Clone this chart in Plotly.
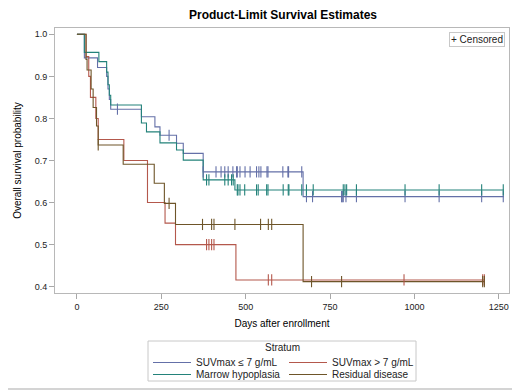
import plotly.graph_objects as go
import numpy as np

# ---- data ----
strata = ["SUVmax \u2264 7 g/mL", "SUVmax > 7 g/mL", "Marrow hypoplasia", "Residual disease"]
colors = ["#6470a8", "#b4584c", "#23827a", "#6e5529"]

blue_t = [0, 22, 61, 88, 92, 96, 100, 191, 231, 246, 295, 315, 374, 670, 1265]
blue_s = [1.0, 0.944, 0.921, 0.90, 0.87, 0.845, 0.822, 0.804, 0.780, 0.760, 0.741, 0.717, 0.673, 0.614, 0.614]
blue_c = [120, 273, 374, 412, 427, 438, 448, 462, 473, 475, 483, 498, 513, 532, 539, 545, 563, 566,
          610, 625, 627, 666, 680, 698, 784, 786, 789, 797, 828, 972, 1073, 1199, 1263]

red_t = [0, 27, 35, 40, 56, 63, 139, 209, 261, 292, 471, 1209]
red_s = [1.0, 0.947, 0.90, 0.85, 0.80, 0.75, 0.70, 0.60, 0.551, 0.50, 0.416, 0.416]
red_c = [384, 391, 399, 406, 567, 577, 969, 1202, 1207]

teal_t = [0, 22, 65, 88, 92, 96, 100, 191, 206, 246, 295, 315, 374, 468, 1265]
teal_s = [1.0, 0.957, 0.935, 0.91, 0.88, 0.855, 0.832, 0.789, 0.768, 0.742, 0.725, 0.701, 0.654, 0.630, 0.630]
teal_c = [384, 391, 438, 448, 458, 463, 475, 477, 483, 497, 532, 537, 562, 566, 611, 626, 628, 666,
          680, 700, 789, 794, 799, 828, 972, 1073, 1199, 1263]

brown_t = [0, 27, 30, 42, 48, 58, 63, 137, 229, 259, 292, 670, 1209]
brown_s = [1.0, 0.94, 0.915, 0.87, 0.826, 0.782, 0.737, 0.691, 0.646, 0.598, 0.548, 0.412, 0.412]
brown_c = [63, 273, 372, 399, 406, 468, 544, 567, 577, 695, 784, 1202, 1207]

x_ticks = [0, 250, 500, 750, 1000, 1250]
y_ticks = [0.4, 0.5, 0.6, 0.7, 0.8, 0.9, 1.0]

curves = [(blue_t, blue_s, blue_c), (red_t, red_s, red_c), (teal_t, teal_s, teal_c), (brown_t, brown_s, brown_c)]
legend_ids = ["legend", "legend", "legend2", "legend2"]


def surv_at(t, s, x):
    idx = np.searchsorted(np.array(t), np.array(x), side="right") - 1
    return list(np.array(s)[idx])


fig = go.Figure()
for name, col, lg, (t, s, c) in zip(strata, colors, legend_ids, curves):
    fig.add_trace(go.Scatter(x=t, y=s, mode="lines", name=name, legend=lg,
                             line=dict(color=col, width=1.1, shape="hv")))
for name, col, (t, s, c) in zip(strata, colors, curves):
    fig.add_trace(go.Scatter(x=c, y=surv_at(t, s, c), mode="markers", showlegend=False,
                             name=name + " censored",
                             marker=dict(symbol="line-ns", size=8, line=dict(color=col, width=1.1))))

fnt = "Liberation Sans, Arial, sans-serif"
OFF = 8  # browser body margin
W, H = 520 - OFF, 390 - OFF
ml, mt = 55 - OFF, 28 - OFF
mr = 520 - 509
mb = 390 - 293
pw, ph = W - ml - mr, H - mt - mb


def px2x(px):  # page pixel -> paper x
    return (px - OFF - ml) / pw


def py2y(py):  # page pixel -> paper y
    return (H - mb - (py - OFF)) / ph


leg_common = dict(orientation="h", xanchor="left", yanchor="top", borderwidth=0,
                  bgcolor="rgba(0,0,0,0)", font=dict(size=10, color="#222"), traceorder="normal",
                  entrywidth=83, entrywidthmode="pixels", itemwidth=38, tracegroupgap=0)

fig.update_layout(
    width=W, height=H,
    margin=dict(l=ml, r=mr, t=mt, b=mb, autoexpand=False),
    paper_bgcolor="white", plot_bgcolor="white",
    font=dict(family=fnt, size=10, color="#222"),
    title=dict(text="<b>Product-Limit Survival Estimates</b>", xref="paper", x=px2x(283), xanchor="center",
               yref="container", y=1 - (15 - OFF) / H, yanchor="middle", font=dict(size=12, color="#000")),
    xaxis=dict(range=[-65, 1280], tickvals=x_ticks, ticks="outside", ticklen=5, tickcolor="#a8a8a8",
               showline=True, linecolor="#b8b8b8", mirror=True, showgrid=False, zeroline=False,
               title=dict(text="Days after enrollment", font=dict(size=10, color="#000"), standoff=9),
               tickfont=dict(size=9, color="#222")),
    yaxis=dict(range=[0.385, 1.015], tickvals=y_ticks, tickformat=".1f", ticks="outside", ticklen=5,
               tickcolor="#a8a8a8", showline=True, linecolor="#b8b8b8", mirror=True, showgrid=False,
               zeroline=False,
               title=dict(text="Overall survival probability", font=dict(size=10, color="#000"), standoff=11),
               tickfont=dict(size=9, color="#222")),
    legend=dict(x=px2x(148), y=py2y(348), **leg_common),
    legend2=dict(x=px2x(148), y=py2y(360), **leg_common),
    annotations=[
        dict(text="+ Censored", xref="paper", yref="paper", x=px2x(505), y=py2y(32),
             xanchor="right", yanchor="top", showarrow=False, bordercolor="#c8c8c8",
             borderwidth=1, borderpad=1, bgcolor="white", font=dict(size=10, color="#222")),
        dict(text="Stratum", xref="paper", yref="paper", x=px2x(282), y=py2y(347),
             xanchor="center", yanchor="middle", showarrow=False, font=dict(size=10, color="#222")),
    ],
    shapes=[
        dict(type="rect", xref="paper", yref="paper", x0=px2x(148), x1=px2x(416), y0=py2y(381),
             y1=py2y(341), line=dict(color="#c8c8c8", width=1), layer="below"),
        dict(type="line", xref="paper", yref="paper", x0=px2x(519), x1=px2x(519), y0=py2y(390),
             y1=py2y(OFF), line=dict(color="#d4d4d4", width=2)),
        dict(type="line", xref="paper", yref="paper", x0=px2x(OFF), x1=px2x(520), y0=py2y(389),
             y1=py2y(389), line=dict(color="#d4d4d4", width=2)),
    ],
)

fig.write_html("out.html")
